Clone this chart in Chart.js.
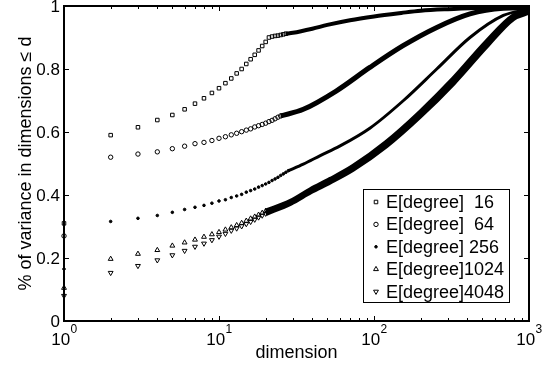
<!DOCTYPE html>
<html>
<head>
<meta charset="utf-8">
<script src="https://cdn.jsdelivr.net/npm/chart.js@4.4.1/dist/chart.umd.min.js"></script>
<style>
body { margin: 0; background: #fff; }
#wrap { width: 559px; height: 371px; }
</style>
</head>
<body>
<div id="wrap"><canvas id="chart" width="559" height="371"></canvas></div>
<script>
// --- data ---
// separate markers (small dimensions)
const deg16Dims = [1,2,3,4,5,6,7,8,9,10,11,12,13,14,15,16,17,18,19,20,21,22,23,24,25,26,27];
const deg16Vals = [0.31,0.59,0.615,0.638,0.654,0.672,0.69,0.707,0.724,0.739,0.755,0.77,0.786,0.80,0.816,0.831,0.845,0.859,0.873,0.886,0.90,0.903,0.905,0.906,0.908,0.910,0.912];
const deg64Dims = [1,2,3,4,5,6,7,8,9,10,11,12,13,14,15,16,17,18,19,20,21,22,23,24,25];
const deg64Vals = [0.27,0.52,0.53,0.537,0.547,0.555,0.563,0.567,0.573,0.58,0.585,0.591,0.596,0.601,0.606,0.61,0.616,0.62,0.624,0.628,0.633,0.637,0.642,0.647,0.651];
const deg256Dims = [1,2,3,4,5,6,7,8,9,10,11,12,13,14,15,16,17,18,19,20,21,22,23,24,25,26,27,28];
const deg256Vals = [0.165,0.316,0.326,0.335,0.345,0.354,0.361,0.367,0.374,0.381,0.385,0.392,0.397,0.402,0.409,0.414,0.419,0.425,0.43,0.435,0.44,0.446,0.451,0.456,0.462,0.467,0.472,0.477];
const deg1024Dims = [1,2,3,4,5,6,7,8,9,10,11,12,13,14,15,16,17,18,19,20];
const deg1024Vals = [0.105,0.197,0.213,0.225,0.239,0.249,0.258,0.267,0.275,0.282,0.29,0.297,0.304,0.311,0.318,0.325,0.331,0.337,0.343,0.349];
const deg4048Dims = [1,2,3,4,5,6,7,8,9,10,11,12,13,14,15,16,17,18,19,20];
const deg4048Vals = [0.08,0.153,0.175,0.193,0.209,0.223,0.236,0.246,0.257,0.268,0.277,0.287,0.294,0.301,0.308,0.315,0.322,0.329,0.335,0.341];

// dense part (markers overlap into a solid band)
const deg16BandDims = [27,30,40,50,70,100,150,200,300,500,700,1000];
const deg16BandVals = [0.912,0.915,0.928,0.94,0.955,0.967,0.978,0.985,0.99,0.994,0.996,0.995];
const deg64BandDims = [25,35,57,94,154,254,416,683,1000];
const deg64BandVals = [0.651,0.672,0.73,0.805,0.874,0.932,0.975,0.993,0.995];
const deg256BandDims = [28,35,45,60,94,155,254,416,683,1000];
const deg256BandVals = [0.477,0.498,0.525,0.555,0.612,0.70,0.80,0.90,0.97,0.99];
const deg1024BandDims = [20,29,39,52,73,120,198,325,530,790,1000];
const deg1024BandVals = [0.349,0.38,0.417,0.449,0.49,0.567,0.662,0.768,0.885,0.968,0.985];
const deg4048BandDims = [20,29,39,52,73,120,198,325,530,790,1000];
const deg4048BandVals = [0.341,0.374,0.41,0.441,0.481,0.556,0.65,0.755,0.872,0.96,0.98];

const legendLabels = ["E[degree]  16", "E[degree]  64", "E[degree] 256", "E[degree]1024", "E[degree]4048"];
const xTickValues = [1, 10, 100, 1000];
const xTickExps = ["0", "1", "2", "3"];
const yTickValues = [0, 0.2, 0.4, 0.6, 0.8, 1];
const yTickLabels = ["0", "0.2", "0.4", "0.6", "0.8", "1"];
const xTitle = "dimension";
const yTitle = "% of variance in dimensions \u2264 d";

const FONT = '"Liberation Sans", Arial, Helvetica, sans-serif';

function toXY(dims, vals) {
  return dims.map((d, i) => ({ x: d, y: vals[i] }));
}

// marker look per series
const markers = [
  { pointStyle: "rect", radius: 2.5, rotation: 0, filled: false, band: 4 },
  { pointStyle: "circle", radius: 2.2, rotation: 0, filled: false, band: 5 },
  { pointStyle: "circle", radius: 1.3, rotation: 0, filled: true, band: 3 },
  { pointStyle: "triangle", radius: 2.8, rotation: 0, filled: false, band: 5 },
  { pointStyle: "triangle", radius: 2.8, rotation: 180, filled: false, band: 5 }
];

const sparse = [
  toXY(deg16Dims, deg16Vals),
  toXY(deg64Dims, deg64Vals),
  toXY(deg256Dims, deg256Vals),
  toXY(deg1024Dims, deg1024Vals),
  toXY(deg4048Dims, deg4048Vals)
];
const bands = [
  toXY(deg16BandDims, deg16BandVals),
  toXY(deg64BandDims, deg64BandVals),
  toXY(deg256BandDims, deg256BandVals),
  toXY(deg1024BandDims, deg1024BandVals),
  toXY(deg4048BandDims, deg4048BandVals)
];

const datasets = [];
markers.forEach((m, i) => {
  datasets.push({
    label: legendLabels[i],
    data: sparse[i],
    showLine: false,
    pointStyle: m.pointStyle,
    pointRadius: m.radius,
    pointRotation: m.rotation,
    pointBorderWidth: 1,
    borderColor: "#000",
    backgroundColor: m.filled ? "#000" : "rgba(0,0,0,0)",
    clip: false
  });
  datasets.push({
    label: legendLabels[i] + " band",
    data: bands[i],
    showLine: true,
    pointRadius: 0,
    borderWidth: m.band,
    borderColor: "#000",
    cubicInterpolationMode: "monotone",
    fill: false,
    clip: false
  });
});

// axes box, ticks, tick labels and titles (matlab style)
const axesPlugin = {
  id: "axesPlugin",
  afterDraw(chart) {
    const ctx = chart.ctx;
    const a = chart.chartArea;
    const xs = chart.scales.x;
    const ys = chart.scales.y;
    ctx.save();
    ctx.strokeStyle = "#000";
    ctx.fillStyle = "#000";

    ctx.lineWidth = 1;
    ctx.beginPath();
    yTickValues.forEach(v => {
      const y = Math.round(ys.getPixelForValue(v)) + 0.5;
      ctx.moveTo(a.left, y); ctx.lineTo(a.left + 5, y);
      ctx.moveTo(a.right, y); ctx.lineTo(a.right - 5, y);
    });
    for (let dec = 1; dec < 1000; dec *= 10) {
      for (let k = 1; k < 10; k++) {
        const v = dec * k;
        const len = k === 1 ? 5 : 3;
        const x = Math.round(xs.getPixelForValue(v)) + 0.5;
        ctx.moveTo(x, a.bottom); ctx.lineTo(x, a.bottom - len);
        ctx.moveTo(x, a.top); ctx.lineTo(x, a.top + len);
      }
    }
    ctx.stroke();

    ctx.lineWidth = 2;
    ctx.strokeRect(a.left, a.top, a.right - a.left, a.bottom - a.top);

    // y tick labels
    ctx.font = "17px " + FONT;
    ctx.textAlign = "right";
    ctx.textBaseline = "middle";
    yTickValues.forEach((v, i) => {
      ctx.fillText(yTickLabels[i], a.left - 4, ys.getPixelForValue(v) + 1);
    });

    // x tick labels with exponent
    ctx.textAlign = "left";
    ctx.textBaseline = "alphabetic";
    xTickValues.forEach((v, i) => {
      ctx.font = "17px " + FONT;
      const wb = ctx.measureText("10").width;
      ctx.font = "12px " + FONT;
      const we = ctx.measureText(xTickExps[i]).width;
      const x0 = xs.getPixelForValue(v) - (wb + we) / 2;
      ctx.font = "17px " + FONT;
      ctx.fillText("10", x0, 345);
      ctx.font = "12px " + FONT;
      ctx.fillText(xTickExps[i], x0 + wb + 0.5, 333);
    });

    // axis titles
    ctx.font = "18px " + FONT;
    ctx.textAlign = "center";
    ctx.fillText(xTitle, (a.left + a.right) / 2, 358);
    ctx.save();
    ctx.translate(31, (a.top + a.bottom) / 2);
    ctx.rotate(-Math.PI / 2);
    ctx.fillText(yTitle, 0, 0);
    ctx.restore();

    // legend box
    const bx = 363, by = 189, bw = 146, bh = 113;
    ctx.fillStyle = "#fff";
    ctx.fillRect(bx, by, bw, bh);
    ctx.lineWidth = 1;
    ctx.strokeStyle = "#000";
    ctx.strokeRect(bx + 0.5, by + 0.5, bw, bh);
    ctx.font = "18px " + FONT;
    ctx.textAlign = "left";
    ctx.textBaseline = "middle";
    markers.forEach((m, i) => {
      const y = by + 13 + i * 22.4;
      ctx.fillStyle = m.filled ? "#000" : "rgba(0,0,0,0)";
      ctx.strokeStyle = "#000";
      ctx.lineWidth = 1;
      Chart.helpers.drawPoint(ctx, {
        pointStyle: m.pointStyle, radius: m.radius, rotation: m.rotation, borderWidth: 1
      }, 376, y);
      ctx.fillStyle = "#000";
      ctx.fillText(legendLabels[i], 386, y + 1);
    });
    ctx.restore();
  }
};

const chart = new Chart(document.getElementById("chart"), {
  type: "scatter",
  data: { datasets: datasets },
  options: {
    responsive: false,
    animation: false,
    devicePixelRatio: 1,
    layout: { padding: { left: 64, right: 30, top: 6, bottom: 50 } },
    plugins: { legend: { display: false }, tooltip: { enabled: false } },
    scales: {
      x: { type: "logarithmic", min: 1, max: 1000, display: false },
      y: { type: "linear", min: 0, max: 1, display: false }
    }
  },
  plugins: [axesPlugin]
});
</script>
</body>
</html>
